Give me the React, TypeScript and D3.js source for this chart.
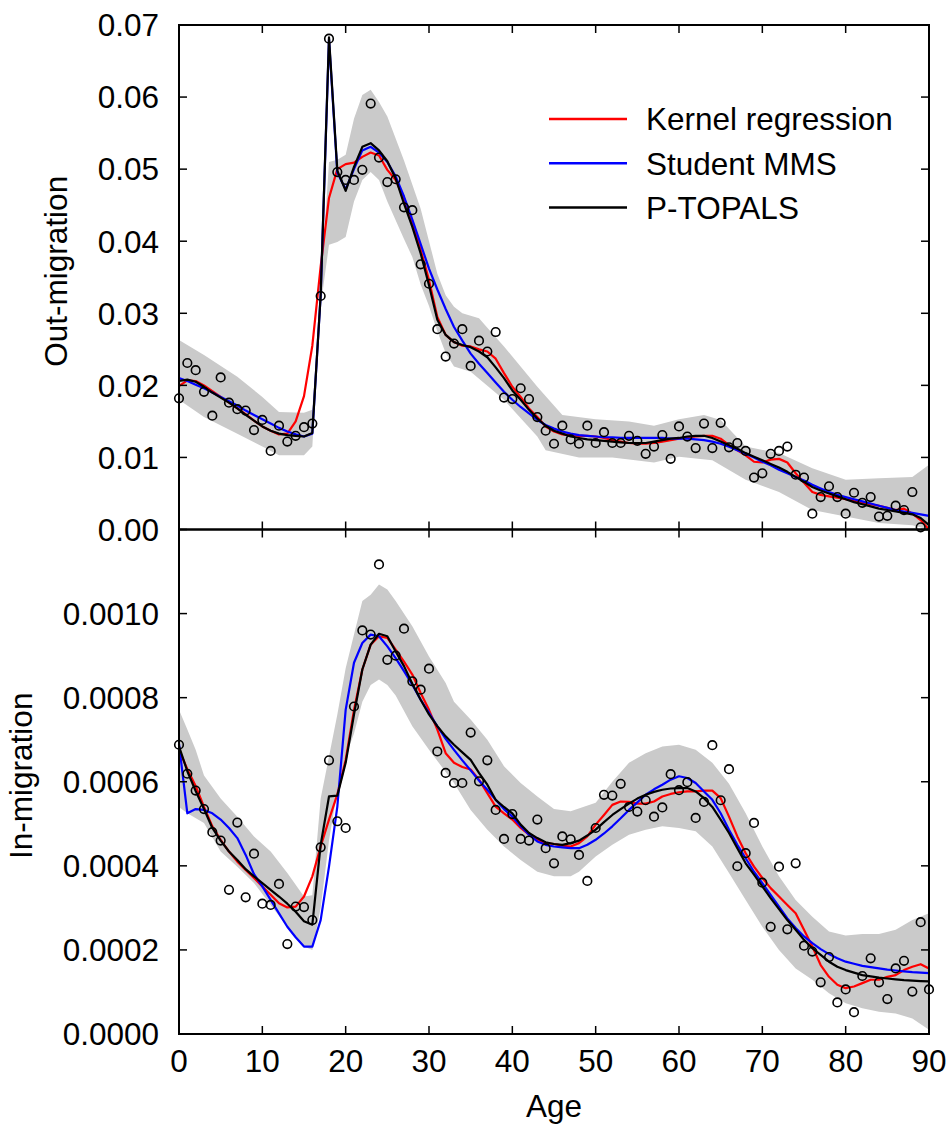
import React from "react";
import * as d3 from "d3";

// ---------- data ----------
const ages = d3.range(0, 91);

// Out-migration (top panel)
const outObsAges = d3.range(0, 90);
const outObserved = [.0182,.0231,.0221,.0191,.0158,.0211,.0176,.0167,.0165,.0138,.0152,.0109,.0144,.0122,.0130,.0142,.0147,.0324,.0681,.0496,.0485,.0485,.0499,.0591,.0516,.0482,.0486,.0447,.0443,.0368,.0341,.0278,.0240,.0258,.0278,.0227,.0262,.0247,.0274,.0183,.0181,.0196,.0181,.0156,.0137,.0119,.0144,.0125,.0119,.0144,.0120,.0135,.0120,.0120,.0130,.0123,.0105,.0115,.0131,.0098,.0143,.0129,.0113,.0147,.0113,.0148,.0114,.0120,.0109,.0072,.0078,.0105,.0109,.0115,.0076,.0072,.0022,.0045,.0060,.0045,.0022,.0051,.0037,.0045,.0018,.0019,.0033,.0027,.0052,.0003];
const outKernel = [.0199,.0207,.0206,.0200,.0192,.0184,.0176,.0168,.0160,.0151,.0143,.0137,.0132,.0133,.0150,.0185,.0255,.0365,.0460,.0500,.0507,.0509,.0517,.0523,.0519,.0499,.0485,.0459,.0427,.0388,.0346,.0295,.0270,.0260,.0255,.0254,.0250,.0247,.0237,.0217,.0198,.0184,.0168,.0156,.0143,.0136,.0132,.0131,.0130,.0130,.0129,.0127,.0124,.0122,.0120,.0119,.0119,.0120,.0122,.0124,.0126,.0128,.0129,.0130,.0130,.0126,.0117,.0110,.0103,.0094,.0093,.0097,.0098,.0093,.0078,.0065,.0052,.0048,.0046,.0044,.0042,.0040,.0037,.0035,.0033,.0030,.0027,.0029,.0022,.0013,.0000];
const outStudent = [.0210,.0206,.0201,.0196,.0190,.0184,.0178,.0172,.0165,.0159,.0153,.0147,.0141,.0136,.0132,.0129,.0133,.0325,.0680,.0495,.0472,.0500,.0526,.0531,.0523,.0510,.0490,.0462,.0430,.0396,.0362,.0333,.0306,.0281,.0262,.0244,.0230,.0217,.0204,.0191,.0180,.0170,.0161,.0152,.0145,.0140,.0136,.0133,.0131,.0130,.0129,.0128,.0128,.0127,.0127,.0127,.0127,.0127,.0127,.0126,.0126,.0126,.0125,.0124,.0122,.0119,.0115,.0110,.0105,.0100,.0094,.0089,.0083,.0078,.0073,.0068,.0062,.0057,.0052,.0048,.0045,.0042,.0039,.0036,.0033,.0030,.0027,.0025,.0023,.0021,.0019];
const outTopals = [.0206,.0208,.0205,.0198,.0190,.0183,.0176,.0168,.0159,.0151,.0143,.0137,.0133,.0131,.0130,.0129,.0134,.0325,.0683,.0498,.0470,.0503,.0531,.0536,.0526,.0511,.0487,.0452,.0420,.0383,.0339,.0291,.0270,.0260,.0256,.0253,.0247,.0239,.0225,.0210,.0193,.0180,.0166,.0154,.0144,.0137,.0133,.0129,.0127,.0125,.0124,.0123,.0122,.0121,.0120,.0120,.0120,.0122,.0124,.0126,.0127,.0129,.0130,.0130,.0127,.0122,.0117,.0112,.0106,.0101,.0096,.0091,.0086,.0080,.0073,.0066,.0059,.0054,.0050,.0046,.0042,.0038,.0035,.0032,.0029,.0027,.0025,.0023,.0021,.0016,.0006];
const outBandHiAges = [0,3,7,10,12,15,16,17,18,19,20,21,22,23,24,25,27,29,30,31,32,33,34,36,37,39,43,46,50,54,57,60,63,65,68,72,76,80,84,88,90];
const outBandHi = [.0263,.0242,.0212,.0184,.0163,.0162,.0166,.0335,.0510,.0513,.0520,.0570,.0603,.0610,.0593,.0573,.0512,.0445,.0400,.0355,.0325,.0309,.0300,.0293,.0280,.0254,.0198,.0159,.0153,.0150,.0144,.0153,.0159,.0152,.0115,.0106,.0085,.0069,.0071,.0073,.0090];
const outBandLoAges = [0,3,7,10,12,15,16,17,18,19,20,21,22,23,24,25,27,28,29,30,31,32,33,35,39,43,44,48,52,57,60,64,68,72,76,80,84,88,90];
const outBandLo = [.0180,.0156,.0133,.0115,.0103,.0103,.0115,.0310,.0395,.0399,.0406,.0455,.0485,.0496,.0485,.0455,.0403,.0378,.0340,.0310,.0275,.0245,.0226,.0219,.0180,.0129,.0110,.0100,.0100,.0093,.0101,.0096,.0069,.0052,.0027,.0018,.0009,.0006,.0000];

// In-migration (bottom panel)
const inObserved = [.000688,.000619,.000579,.000535,.000480,.000460,.000343,.000503,.000325,.000429,.000310,.000307,.000357,.000214,.000303,.000302,.000271,.000444,.000651,.000506,.000490,.000779,.000960,.000950,.001117,.000890,.000900,.000964,.000839,.000819,.000869,.000672,.000621,.000597,.000597,.000717,.000601,.000651,.000533,.000464,.000523,.000464,.000460,.000510,.000442,.000406,.000470,.000463,.000426,.000364,.000490,.000569,.000567,.000595,.000540,.000529,.000556,.000517,.000539,.000618,.000580,.000599,.000514,.000552,.000687,.000556,.000630,.000399,.000430,.000502,.000360,.000255,.000398,.000249,.000406,.000210,.000196,.000123,.000183,.000075,.000106,.000052,.000138,.000180,.000123,.000083,.000156,.000174,.000101,.000266,.000106];
const inKernel = [.000676,.000630,.000590,.000540,.000494,.000462,.000434,.000410,.000390,.000371,.000351,.000331,.000311,.000301,.000303,.000327,.000375,.000446,.000510,.000570,.000652,.000771,.000867,.000926,.000946,.000942,.000914,.000886,.000855,.000811,.000771,.000724,.000668,.000645,.000635,.000629,.000605,.000573,.000541,.000525,.000510,.000490,.000474,.000462,.000454,.000452,.000448,.000446,.000454,.000470,.000498,.000521,.000545,.000553,.000552,.000548,.000548,.000553,.000565,.000571,.000575,.000577,.000577,.000579,.000579,.000561,.000517,.000470,.000430,.000398,.000371,.000347,.000327,.000307,.000287,.000248,.000208,.000164,.000136,.000117,.000109,.000113,.000121,.000129,.000129,.000136,.000140,.000152,.000160,.000166,.000156];
const inStudent = [.000690,.000525,.000535,.000533,.000525,.000510,.000490,.000466,.000426,.000380,.000351,.000319,.000287,.000255,.000230,.000208,.000208,.000271,.000398,.000541,.000771,.000883,.000930,.000950,.000946,.000922,.000894,.000863,.000831,.000795,.000764,.000732,.000702,.000676,.000651,.000627,.000603,.000581,.000557,.000535,.000517,.000494,.000474,.000458,.000450,.000446,.000444,.000442,.000442,.000450,.000462,.000477,.000494,.000513,.000533,.000551,.000569,.000582,.000593,.000605,.000613,.000609,.000597,.000577,.000557,.000525,.000486,.000450,.000418,.000386,.000359,.000331,.000303,.000275,.000252,.000232,.000216,.000202,.000190,.000180,.000172,.000167,.000162,.000159,.000156,.000153,.000151,.000149,.000147,.000146,.000145];
const inTopals = [.000684,.000625,.000578,.000535,.000490,.000460,.000434,.000414,.000392,.000375,.000359,.000343,.000327,.000310,.000291,.000268,.000260,.000450,.000565,.000567,.000645,.000760,.000867,.000926,.000952,.000946,.000910,.000875,.000833,.000795,.000760,.000732,.000708,.000688,.000670,.000652,.000621,.000593,.000557,.000540,.000525,.000498,.000478,.000466,.000456,.000452,.000450,.000454,.000460,.000472,.000486,.000504,.000521,.000535,.000548,.000560,.000569,.000576,.000581,.000584,.000585,.000585,.000577,.000561,.000540,.000510,.000478,.000442,.000406,.000379,.000351,.000323,.000297,.000271,.000248,.000224,.000204,.000188,.000172,.000160,.000152,.000146,.000140,.000137,.000134,.000132,.000130,.000128,.000127,.000126,.000125];
const inBandHiAges = [0,1,2,3,5,7,9,11,13,15,16,17,18,19,20,21,22,23,24,25,26,28,30,32,33,35,37,39,41,43,45,47,50,52,54,56,58,60,62,64,66,68,70,72,74,76,78,80,82,84,86,88,90];
const inBandHi = [.000771,.000724,.000676,.000615,.000560,.000517,.000470,.000434,.000383,.000327,.000330,.000560,.000660,.000760,.000870,.000950,.001030,.001045,.001069,.001057,.001030,.000970,.000898,.000835,.000790,.000748,.000700,.000637,.000597,.000565,.000535,.000530,.000550,.000600,.000645,.000668,.000684,.000688,.000676,.000645,.000595,.000525,.000446,.000375,.000319,.000279,.000244,.000234,.000238,.000238,.000248,.000271,.000287];
const inBandLoAges = [0,1,3,5,7,9,11,13,15,16,17,18,19,20,21,22,23,24,25,26,28,30,33,35,37,39,41,43,45,47,48,50,52,54,56,58,60,62,64,66,68,70,72,74,76,78,80,82,84,86,88,90];
const inBandLo = [.000540,.000525,.000502,.000434,.000398,.000359,.000307,.000255,.000208,.000200,.000300,.000460,.000580,.000660,.000715,.000790,.000830,.000843,.000830,.000805,.000732,.000676,.000597,.000533,.000486,.000446,.000414,.000386,.000375,.000375,.000386,.000422,.000450,.000474,.000486,.000494,.000490,.000482,.000446,.000383,.000319,.000255,.000200,.000156,.000129,.000097,.000073,.000061,.000053,.000049,.000037,.000010];

const xTicks = [0, 10, 20, 30, 40, 50, 60, 70, 80, 90];
const outYTicks = [0, 0.01, 0.02, 0.03, 0.04, 0.05, 0.06, 0.07];
const inYTicks = [0, 0.0002, 0.0004, 0.0006, 0.0008, 0.0010];
const legendLabels = ["Kernel regression", "Student MMS", "P-TOPALS"];
const seriesColors = ["#ff0000", "#0000ff", "#000000"];

// ---------- layout ----------
const W = 950, H = 1126;
const X0 = 179, X1 = 929;
const FONT = "'Liberation Sans', Arial, Helvetica, sans-serif";
const FS = 31.5;
const TICK = 8;

const x = d3.scaleLinear().domain([0, 90]).range([X0, X1]);

type PanelProps = {
  top: number; bottom: number; yMax: number; yTicks: number[]; fmt: (v: number) => string;
  label: string; labelX: number; obsAges: number[]; obs: number[]; curves: number[][];
  hiAges: number[]; hi: number[]; loAges: number[]; lo: number[]; showBottomTicks: boolean;
};

function Panel(p: PanelProps) {
  const y = d3.scaleLinear().domain([0, p.yMax]).range([p.bottom, p.top]);
  const line = d3.line<[number, number]>().x(d => x(d[0])).y(d => y(d[1]));
  const hiPts: [number, number][] = p.hiAges.map((a, i) => [a, p.hi[i]]);
  const loPts: [number, number][] = p.loAges.map((a, i) => [a, p.lo[i]]).reverse() as [number, number][];
  const bandPath = line([...hiPts, ...loPts]) + "Z";
  const midY = (p.top + p.bottom) / 2;
  return (
    <g>
      <path d={bandPath} fill="#cacaca" stroke="none" />
      {p.curves.map((c, k) => (
        <path key={k} d={line(ages.map((a, i) => [a, c[i]] as [number, number])) || ""}
          fill="none" stroke={seriesColors[k]} strokeWidth={2.2} strokeLinejoin="round" />
      ))}
      {p.obs.map((v, i) => (
        <circle key={i} cx={x(p.obsAges[i])} cy={y(v)} r={4.3} fill="none" stroke="#000" strokeWidth={1.6} />
      ))}
      <rect x={X0} y={p.top} width={X1 - X0} height={p.bottom - p.top} fill="none" stroke="#000" strokeWidth={2} />
      {xTicks.map(t => (
        <g key={"xt" + t}>
          <line x1={x(t)} x2={x(t)} y1={p.top} y2={p.top + TICK} stroke="#000" strokeWidth={1.5} />
          <line x1={x(t)} x2={x(t)} y1={p.bottom} y2={p.bottom - TICK} stroke="#000" strokeWidth={1.5} />
        </g>
      ))}
      {p.yTicks.map(t => (
        <g key={"yt" + t}>
          <line x1={X0} x2={X0 + TICK} y1={y(t)} y2={y(t)} stroke="#000" strokeWidth={1.5} />
          <line x1={X1} x2={X1 - TICK} y1={y(t)} y2={y(t)} stroke="#000" strokeWidth={1.5} />
          <text x={159} y={y(t)} dy="0.36em" textAnchor="end" fontFamily={FONT} fontSize={FS}>{p.fmt(t)}</text>
        </g>
      ))}
      <text transform={`translate(${p.labelX},${midY - 6}) rotate(-90)`} textAnchor="middle"
        fontFamily={FONT} fontSize={FS}>{p.label}</text>
      {p.showBottomTicks && xTicks.map(t => (
        <text key={"xl" + t} x={x(t)} y={p.bottom + 38} textAnchor="middle" fontFamily={FONT} fontSize={FS}>{t}</text>
      ))}
    </g>
  );
}

export default function App() {
  return (
    <svg width={W} height={H} style={{ position: "absolute", left: 0, top: 0, background: "#fff" }}>
      <rect x={0} y={0} width={W} height={H} fill="#fff" />
      <Panel top={25} bottom={529.5} yMax={0.07} yTicks={outYTicks} fmt={d3.format(".2f")}
        label="Out-migration" labelX={67} obsAges={outObsAges} obs={outObserved}
        curves={[outKernel, outStudent, outTopals]}
        hiAges={outBandHiAges} hi={outBandHi} loAges={outBandLoAges} lo={outBandLo} showBottomTicks={false} />
      <Panel top={529.5} bottom={1034} yMax={0.0012} yTicks={inYTicks} fmt={d3.format(".4f")}
        label="In-migration" labelX={32} obsAges={ages} obs={inObserved}
        curves={[inKernel, inStudent, inTopals]}
        hiAges={inBandHiAges} hi={inBandHi} loAges={inBandLoAges} lo={inBandLo} showBottomTicks={true} />
      <text x={(X0 + X1) / 2} y={1117} textAnchor="middle" fontFamily={FONT} fontSize={FS}>Age</text>
      {legendLabels.map((l, i) => (
        <g key={l}>
          <line x1={549} x2={627} y1={119 + i * 44.3} y2={119 + i * 44.3} stroke={seriesColors[i]} strokeWidth={2.5} />
          <text x={646} y={119 + i * 44.3} dy="0.36em" fontFamily={FONT} fontSize={FS}>{l}</text>
        </g>
      ))}
    </svg>
  );
}
